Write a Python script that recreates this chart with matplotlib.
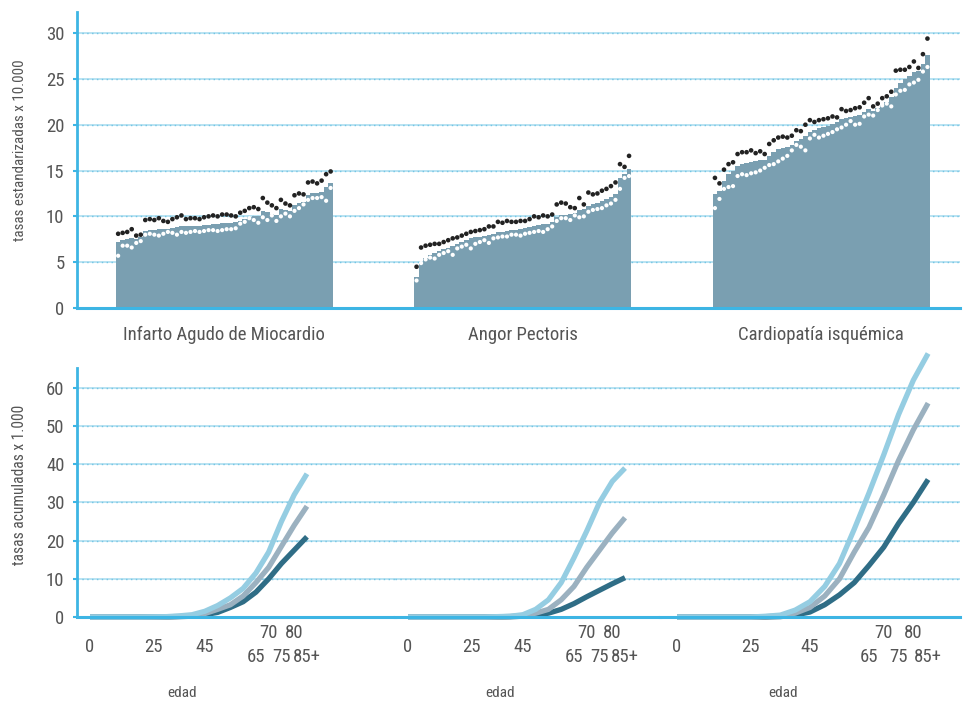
import matplotlib
matplotlib.use("Agg")
import matplotlib.pyplot as plt
from matplotlib import font_manager
import numpy as np

names = {f.name for f in font_manager.fontManager.ttflist}
cond = [n for n in ['Roboto Condensed', 'Liberation Sans Narrow', 'Open Sans Condensed', 'DejaVu Sans Condensed'] if n in names]
plt.rcParams['font.family'] = cond + ['DejaVu Sans']
plt.rcParams['font.stretch'] = 'condensed'

# ---------------- data ----------------
categories = ["Infarto Agudo de Miocardio", "Angor Pectoris", "Cardiopatía isquémica"]

bars1 = [7.2, 7.4, 7.5, 7.6, 7.5, 7.7, 8.4, 8.5, 8.5, 8.6, 8.6, 8.6, 8.7, 8.8, 8.9, 8.9, 9.0, 9.0, 9.0, 9.1,
         9.1, 9.2, 9.2, 9.3, 9.3, 9.3, 9.4, 9.5, 9.7, 9.9, 10.0, 10.0, 10.6, 10.5, 10.3, 10.2, 10.8, 10.7, 10.6, 11.2,
         11.5, 11.6, 12.3, 12.5, 12.5, 12.7, 13.2, 13.6]
black1 = [8.1, 8.2, 8.3, 8.6, 7.9, 8.0, 9.6, 9.7, 9.6, 9.8, 9.5, 9.4, 9.7, 9.9, 10.1, 9.7, 9.8, 9.8, 9.7, 9.9,
          10.0, 10.1, 10.0, 10.2, 10.2, 10.1, 10.0, 10.4, 10.6, 10.9, 11.0, 10.8, 12.0, 11.5, 11.2, 10.9, 11.8, 11.4, 11.2, 12.3,
          12.5, 12.4, 13.7, 13.8, 13.6, 13.9, 14.6, 14.9]
white1 = [5.7, 6.8, 6.8, 6.6, 7.1, 7.3, 8.0, 8.1, 8.0, 7.9, 8.1, 8.3, 8.2, 8.0, 8.3, 8.2, 8.3, 8.4, 8.3, 8.4,
          8.5, 8.5, 8.4, 8.5, 8.6, 8.6, 8.7, 9.2, 9.4, 9.8, 9.6, 9.3, 9.9, 9.6, 10.1, 9.5, 10.0, 10.3, 10.0, 10.6,
          10.9, 11.3, 11.8, 12.0, 12.0, 12.1, 11.7, 13.1]

bars2 = [3.4, 5.0, 5.5, 5.8, 6.0, 6.2, 6.4, 6.6, 6.8, 7.0, 7.2, 7.4, 7.6, 7.7, 7.8, 7.9, 8.0, 8.1, 8.3, 8.3,
         8.4, 8.5, 8.5, 8.6, 8.7, 8.8, 9.0, 9.1, 9.2, 9.2, 9.4, 9.9, 10.1, 10.2, 10.3, 10.4, 10.7, 10.8, 11.1, 11.3,
         11.5, 11.7, 11.9, 12.1, 12.4, 14.2, 14.6, 15.2]
black2 = [4.5, 6.6, 6.8, 6.9, 7.0, 7.0, 7.2, 7.4, 7.6, 7.7, 7.9, 8.1, 8.3, 8.4, 8.5, 8.6, 8.9, 8.9, 9.4, 9.3,
          9.5, 9.4, 9.4, 9.5, 9.5, 9.7, 10.0, 9.9, 10.1, 10.0, 10.2, 11.3, 11.5, 11.4, 11.0, 10.9, 12.0, 11.3, 12.6, 12.4,
          12.5, 12.8, 13.0, 13.3, 13.7, 15.7, 15.4, 16.6]
white2 = [3.0, 4.9, 5.3, 5.5, 5.4, 5.8, 6.0, 6.2, 5.8, 6.5, 6.7, 6.9, 6.5, 7.0, 7.2, 7.4, 7.1, 7.6, 7.7, 7.8,
          7.8, 8.0, 8.0, 7.9, 8.1, 8.2, 8.3, 8.4, 8.3, 8.6, 8.9, 9.5, 9.8, 9.8, 9.6, 10.1, 9.9, 10.0, 10.5, 10.7,
          10.8, 10.9, 11.2, 11.4, 11.8, 13.0, 14.2, 14.4]

bars3 = [12.4, 12.8, 13.9, 14.6, 15.0, 15.5, 15.7, 15.8, 15.9, 16.0, 16.1, 16.2, 16.6, 17.0, 17.3, 17.5, 17.6, 17.8, 18.2, 18.4,
         18.8, 19.2, 19.4, 19.6, 19.8, 19.9, 20.1, 20.3, 20.6, 20.7, 20.8, 21.0, 21.1, 21.4, 21.7, 21.5, 21.8, 22.2, 22.5, 23.0,
         24.0, 24.6, 25.0, 25.3, 25.7, 25.9, 26.6, 27.6]
black3 = [14.2, 13.6, 15.1, 15.7, 15.9, 16.8, 17.0, 17.0, 17.2, 16.9, 17.1, 16.8, 17.9, 18.3, 18.6, 18.7, 18.6, 18.8, 19.4, 19.3,
          20.0, 20.5, 20.3, 20.5, 20.6, 20.7, 20.9, 20.8, 21.7, 21.5, 21.6, 21.8, 21.9, 22.4, 22.9, 22.0, 22.3, 22.9, 23.1, 23.6,
          25.9, 26.0, 26.0, 26.3, 26.9, 26.2, 27.7, 29.4]
white3 = [10.9, 11.9, 13.0, 13.2, 13.3, 14.4, 14.6, 14.5, 14.7, 14.8, 15.0, 15.3, 15.6, 15.7, 16.0, 16.3, 16.6, 17.2, 17.8, 17.6,
          17.2, 18.5, 18.9, 18.6, 18.8, 19.0, 19.2, 19.5, 19.7, 20.0, 20.4, 20.0, 20.1, 20.9, 21.1, 21.0, 21.6, 22.1, 22.3, 22.0,
          23.3, 23.7, 23.8, 24.4, 24.6, 24.9, 25.8, 26.3]

ages = [0, 5, 10, 15, 20, 25, 30, 35, 40, 45, 50, 55, 60, 65, 70, 75, 80, 85]
light1 = [0, 0, 0, 0, 0, 0.05, 0.1, 0.3, 0.6, 1.5, 3.0, 5.0, 7.5, 11.5, 17.0, 25.0, 32.0, 37.5]
gray1 = [0, 0, 0, 0, 0, 0, 0.05, 0.15, 0.3, 0.9, 2.0, 3.2, 5.5, 9.0, 13.0, 18.5, 24.0, 29.0]
dark1 = [0, 0, 0, 0, 0, 0, 0, 0.1, 0.2, 0.6, 1.2, 2.5, 4.0, 6.5, 10.0, 14.0, 17.5, 21.0]
light2 = [0, 0, 0, 0, 0, 0, 0, 0.1, 0.2, 0.6, 2.0, 4.5, 9.0, 15.5, 22.5, 30.0, 35.5, 39.0]
gray2 = [0, 0, 0, 0, 0, 0, 0, 0.05, 0.15, 0.4, 1.0, 2.0, 4.5, 8.0, 13.0, 17.5, 22.0, 26.0]
dark2 = [0, 0, 0, 0, 0, 0, 0, 0, 0.05, 0.2, 0.5, 1.0, 2.0, 3.5, 5.3, 7.0, 8.7, 10.3]
light3 = [0, 0, 0, 0, 0, 0, 0.2, 0.5, 1.8, 4.0, 8.0, 14.0, 23.0, 32.5, 42.5, 53.0, 62.0, 69.0]
gray3 = [0, 0, 0, 0, 0, 0, 0.1, 0.3, 1.0, 2.5, 5.5, 10.0, 17.0, 23.5, 32.0, 41.0, 49.0, 56.0]
dark3 = [0, 0, 0, 0, 0, 0, 0, 0.1, 0.5, 1.3, 3.2, 5.8, 9.0, 13.5, 18.3, 24.5, 30.0, 36.0]

top_yticks = [0, 5, 10, 15, 20, 25, 30]
bot_yticks = [0, 10, 20, 30, 40, 50, 60]
age_mid = [0, 25, 45]
age_up = [70, 80]
age_low = [65, 75, 85]
age_low_labels = ["65", "75", "85+"]
xlabel_text = "edad"
ylabel_top = "tasas estandarizadas x 10.000"
ylabel_bot = "tasas acumuladas x 1.000"

# ---------------- style ----------------
W, H = 976, 702
fig = plt.figure(figsize=(W / 100, H / 100), dpi=100)
AXIS_C = '#3db5e4'
GRID_C = '#b3e0f1'
GRID_D = '#74c5e4'
TXT_C = '#555555'
BAR_C = '#7a9fb1'
C_LIGHT, C_GRAY, C_DARK = '#95cde2', '#9bb1c0', '#2f6d86'
TICK_FS = 13.5


def px_axes(x0, x1, ytop, ybot):
    return fig.add_axes([x0 / W, (H - ybot) / H, (x1 - x0) / W, (ybot - ytop) / H])


def grid(ax, ticks):
    for t in ticks[1:]:
        ax.axhline(t, color=GRID_C, lw=1.3, zorder=0)
        ax.axhline(t, color=GRID_D, lw=1.0, ls=(0, (1, 2.5)), zorder=0)


def style(ax, left=True):
    for s in ['top', 'right']:
        ax.spines[s].set_visible(False)
    ax.spines['bottom'].set_color(AXIS_C)
    ax.spines['bottom'].set_linewidth(2.2)
    ax.spines['bottom'].set_zorder(5)
    if left:
        ax.spines['left'].set_color(AXIS_C)
        ax.spines['left'].set_linewidth(2.0)
    else:
        ax.spines['left'].set_visible(False)
    ax.tick_params(axis='y', colors=AXIS_C, length=3, width=1.5, labelcolor=TXT_C,
                   labelsize=TICK_FS, pad=6, left=left, labelleft=left)


# ---------------- top panel ----------------
N = len(bars1)
GAP = 18
ax = px_axes(77, 960, 12, 308)
groups = [(bars1, black1, white1), (bars2, black2, white2), (bars3, black3, white3)]
centers = []
for g, (b, k, w) in enumerate(groups):
    x = np.arange(N) + g * (N + GAP)
    ax.bar(x, b, width=1.0, color=BAR_C, edgecolor='none', zorder=2)
    ax.scatter(x, w, s=9, color='white', edgecolors='none', zorder=3)
    ax.scatter(x, k, s=11, color='#222222', edgecolors='none', zorder=3)
    centers.append(x.mean())
ax.set_xlim(-9.1, 186.2)
ax.set_ylim(0, 32.3)
ax.set_yticks(top_yticks)
grid(ax, top_yticks)
style(ax)
ax.set_xticks(centers)
ax.set_xticklabels(categories, fontsize=TICK_FS, color=TXT_C)
ax.tick_params(axis='x', length=0, pad=13)

# ---------------- bottom panels ----------------
series = [(light1, gray1, dark1), (light2, gray2, dark2), (light3, gray3, dark3)]
spans = [(77, 395, (-5.1, 119.5)), (395, 660, (-5.1, 98.7)), (660, 960, (-5.76, 95.8))]
for g, ((lt, gr, dk), (x0, x1, xl)) in enumerate(zip(series, spans)):
    axb = px_axes(x0, x1, 368, 617)
    axb.set_xlim(*xl)
    axb.set_ylim(0, 65.2)
    axb.set_yticks(bot_yticks)
    grid(axb, bot_yticks)
    style(axb, left=(g == 0))
    for vals, c in [(dk, C_DARK), (gr, C_GRAY), (lt, C_LIGHT)]:
        axb.plot(ages, vals, color=c, lw=3.8, solid_capstyle='butt',
                 solid_joinstyle='round', zorder=4, clip_on=False)
    axb.set_xticks(age_up + age_low)
    axb.set_xticklabels([])
    axb.tick_params(axis='x', colors=AXIS_C, length=2, width=2, direction='inout')
    for a in age_mid:
        axb.annotate(str(a), (a, 0), xycoords=('data', 'axes fraction'), xytext=(0, -21.5),
                     textcoords='offset points', ha='center', va='center', fontsize=TICK_FS, color=TXT_C)
    for a in age_up:
        axb.annotate(str(a), (a, 0), xycoords=('data', 'axes fraction'), xytext=(0, -11.5),
                     textcoords='offset points', ha='center', va='center', fontsize=TICK_FS, color=TXT_C)
    for a, lab in zip(age_low, age_low_labels):
        axb.annotate(lab, (a, 0), xycoords=('data', 'axes fraction'), xytext=(0, -29),
                     textcoords='offset points', ha='center', va='center', fontsize=TICK_FS, color=TXT_C)
    axb.annotate(xlabel_text, (age_mid[1] + 11, 0), xycoords=('data', 'axes fraction'), xytext=(0, -54.5),
                 textcoords='offset points', ha='center', va='center', fontsize=11, color=TXT_C)

fig.text(20 / W, 1 - 150 / H, ylabel_top, rotation=90, ha='center', va='center', fontsize=10.8, color=TXT_C)
fig.text(20 / W, 1 - 485 / H, ylabel_bot, rotation=90, ha='center', va='center', fontsize=11.2, color=TXT_C)

fig.savefig('out.png', dpi=100, facecolor='white')
